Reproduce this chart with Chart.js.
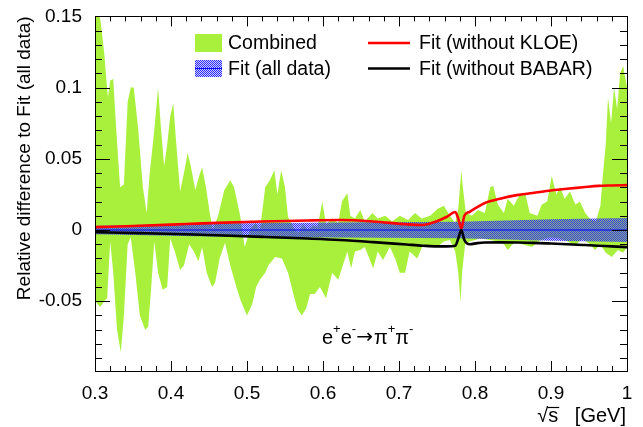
<!DOCTYPE html>
<html>
<head>
<meta charset="utf-8">
<script src="https://cdn.jsdelivr.net/npm/chart.js@4.4.0/dist/chart.umd.min.js"></script>
<style>
  body { margin: 0; background: #fff; }
  #wrap { width: 643px; height: 427px; }
</style>
</head>
<body>
<div id="wrap"><canvas id="chart" width="643" height="427"></canvas></div>
<script>
// axis ticks
const xMajor = [0.3, 0.4, 0.5, 0.6, 0.7, 0.8, 0.9, 1.0];
const xLabels = ['0.3', '0.4', '0.5', '0.6', '0.7', '0.8', '0.9', '1'];
const yMajor = [-0.05, 0, 0.05, 0.1, 0.15];
const yLabels = ['-0.05', '0', '0.05', '0.1', '0.15'];
const xMinorStep = 0.02;
const yMinorStep = 0.01;

// "Combined" band, upper edge
const combUpX = [0.300,0.307,0.312,0.317,0.320,0.324,0.328,0.333,0.338,0.343,
  0.347,0.351,0.357,0.363,0.368,0.372,0.378,0.383,0.387,0.391,
  0.395,0.399,0.403,0.407,0.412,0.417,0.422,0.426,0.432,0.437,
  0.441,0.446,0.451,0.455,0.462,0.470,0.478,0.483,0.491,0.497,
  0.504,0.511,0.517,0.524,0.530,0.536,0.540,0.545,0.550,0.554,
  0.561,0.567,0.574,0.580,0.587,0.593,0.599,0.604,0.612,0.620,
  0.625,0.632,0.636,0.642,0.649,0.655,0.665,0.672,0.682,0.691,
  0.701,0.712,0.721,0.730,0.741,0.751,0.759,0.767,0.774,0.778,
  0.782,0.784,0.788,0.796,0.804,0.813,0.820,0.824,0.830,0.838,
  0.843,0.851,0.859,0.866,0.872,0.882,0.888,0.895,0.901,0.907,
  0.912,0.918,0.925,0.932,0.938,0.945,0.951,0.959,0.965,0.968,
  0.972,0.975,0.979,0.983,0.987,0.991,0.995,1.000];
const combUp = [0.16,0.148,0.125,0.093,0.105,0.106,0.07,0.03,0.032,0.09,
  0.1,0.1,0.07,0.03,0.012,0.04,0.07,0.1,0.07,0.045,
  0.06,0.08,0.089,0.06,0.027,0.04,0.054,0.045,0.028,0.038,
  0.044,0.03,0.012,0.0,0.01,0.028,0.035,0.03,0.01,-0.012,
  0.0,0.005,0.0,0.03,0.035,0.042,0.025,0.042,0.03,0.009,
  0.002,-0.002,0.004,0.0,0.003,0.002,0.02,0.004,0.008,0.005,
  0.02,0.026,0.01,0.008,0.014,0.006,0.012,0.008,0.01,0.006,
  0.01,0.007,0.012,0.008,0.01,0.015,0.017,0.01,0.005,0.015,
  0.042,0.03,0.012,0.01,0.014,0.012,0.03,0.031,0.018,0.012,
  0.022,0.017,0.025,0.026,0.012,0.01,0.018,0.02,0.038,0.025,
  0.03,0.022,0.027,0.018,0.02,0.012,0.008,0.006,0.017,0.037,
  0.06,0.093,0.075,0.1,0.085,0.11,0.115,0.1];

// "Combined" band, lower edge
const combLoX = [0.300,0.307,0.312,0.316,0.320,0.324,0.329,0.334,0.338,0.343,
  0.347,0.353,0.359,0.366,0.370,0.374,0.378,0.383,0.389,0.395,
  0.399,0.405,0.412,0.417,0.424,0.430,0.436,0.441,0.447,0.454,
  0.458,0.464,0.471,0.478,0.486,0.492,0.500,0.507,0.512,0.517,
  0.524,0.528,0.537,0.546,0.554,0.561,0.566,0.572,0.578,0.583,
  0.589,0.596,0.604,0.612,0.620,0.626,0.632,0.637,0.642,0.649,
  0.655,0.661,0.666,0.672,0.679,0.688,0.695,0.701,0.708,0.714,
  0.724,0.732,0.741,0.750,0.759,0.767,0.774,0.778,0.781,0.783,
  0.787,0.793,0.807,0.820,0.830,0.838,0.843,0.853,0.862,0.875,
  0.886,0.899,0.912,0.922,0.932,0.941,0.951,0.958,0.965,0.972,
  0.980,0.988,0.995,1.000];
const combLo = [-0.05,-0.054,-0.05,-0.048,-0.008,-0.03,-0.07,-0.086,-0.06,-0.01,
  -0.005,-0.03,-0.06,-0.07,-0.068,-0.04,-0.008,-0.03,-0.042,-0.04,
  -0.006,-0.015,-0.028,-0.025,-0.01,-0.015,-0.022,-0.012,-0.03,-0.04,
  -0.037,-0.02,-0.009,-0.025,-0.04,-0.05,-0.06,-0.052,-0.04,-0.035,
  -0.03,-0.025,-0.019,-0.02,-0.03,-0.045,-0.055,-0.06,-0.055,-0.045,
  -0.045,-0.04,-0.048,-0.03,-0.035,-0.025,-0.015,-0.027,-0.015,-0.014,
  -0.012,-0.02,-0.027,-0.015,-0.021,-0.012,-0.02,-0.03,-0.03,-0.015,
  -0.02,-0.01,-0.012,-0.012,-0.008,-0.007,-0.015,-0.03,-0.051,-0.03,
  -0.01,-0.008,-0.006,-0.007,-0.008,-0.01,-0.014,-0.008,-0.01,-0.012,
  -0.007,-0.005,-0.006,-0.008,-0.011,-0.006,-0.01,-0.014,-0.01,-0.016,
  -0.019,-0.014,-0.016,-0.012];

// Fit (all data) error band half width
const fitX = [0.3, 0.45, 0.62, 0.78, 0.9, 1.0];
const fitHalf = [0.003, 0.0045, 0.0052, 0.0058, 0.0075, 0.0085];

// Fit (without KLOE)
const redX = [0.3,0.36,0.42,0.46,0.52,0.58,0.622,0.666,0.71,0.731,0.75,0.763,0.774,0.778,0.782,0.786,0.793,0.803,0.813,0.833,0.855,0.876,0.9,0.921,0.942,0.962,0.98,1.0];
const redY = [0.002,0.003,0.0042,0.005,0.006,0.0067,0.007,0.006,0.004,0.0035,0.0062,0.0093,0.0126,0.008,0.001,0.01,0.0128,0.016,0.019,0.022,0.0245,0.026,0.0278,0.029,0.03,0.031,0.0313,0.0315];

// Fit (without BABAR)
const blackX = [0.3,0.36,0.42,0.46,0.52,0.58,0.622,0.666,0.71,0.731,0.75,0.763,0.774,0.778,0.782,0.786,0.793,0.803,0.813,0.833,0.855,0.876,0.9,0.921,0.942,0.962,0.98,1.0];
const blackY = [-0.0015,-0.0022,-0.003,-0.0037,-0.0048,-0.006,-0.007,-0.0085,-0.0102,-0.011,-0.0115,-0.0115,-0.011,-0.006,0.0,-0.007,-0.01,-0.0092,-0.0088,-0.0087,-0.0088,-0.009,-0.0095,-0.01,-0.0105,-0.011,-0.0115,-0.012];

const FONT = '"Liberation Sans", Arial, Helvetica, sans-serif';
const GREEN = '#a8f03c';

const canvas = document.getElementById('chart');
const ctx = canvas.getContext('2d');

function pts(xs, ys) {
  return xs.map((x, i) => ({ x: x, y: ys[i] }));
}

// checkered blue fill like ROOT hatch
function makeHatch() {
  const c = document.createElement('canvas');
  c.width = 2; c.height = 2;
  const g = c.getContext('2d');
  g.fillStyle = 'rgba(90,90,255,0.3)';
  g.fillRect(0, 0, 2, 2);
  g.fillStyle = '#2c2cff';
  g.fillRect(0, 0, 1, 1);
  g.fillRect(1, 1, 1, 1);
  return ctx.createPattern(c, 'repeat');
}
const hatch = makeHatch();

const thin = { pointRadius: 0, borderWidth: 0, tension: 0 };

const datasets = [
  { label: 'Fit (without BABAR)', data: pts(blackX, blackY), borderColor: '#000', borderWidth: 2.6,
    pointRadius: 0, fill: false, cubicInterpolationMode: 'monotone', order: 0 },
  { label: 'Fit (without KLOE)', data: pts(redX, redY), borderColor: '#ff0000', borderWidth: 2.6,
    pointRadius: 0, fill: false, cubicInterpolationMode: 'monotone', order: 1 },
  { label: 'Fit (all data)', data: pts(fitX, fitX.map(() => 0)), borderColor: '#0000ff', borderWidth: 1,
    pointRadius: 0, fill: false, order: 2 },
  Object.assign({ label: 'fit up', data: pts(fitX, fitHalf), fill: 4, backgroundColor: hatch, order: 3 }, thin),
  Object.assign({ label: 'fit lo', data: pts(fitX, fitHalf.map(v => -v)), fill: false, order: 4 }, thin),
  Object.assign({ label: 'Combined', data: pts(combUpX, combUp), fill: 6, backgroundColor: GREEN, order: 5 }, thin),
  Object.assign({ label: 'comb lo', data: pts(combLoX, combLo), fill: false, order: 6 }, thin)
];

// inner ticks on all four sides + frame
const rootAxes = {
  id: 'rootAxes',
  afterDatasetsDraw(chart) {
    const { ctx, chartArea: a } = chart;
    const xs = chart.scales.x, ys = chart.scales.y;
    ctx.save();
    ctx.strokeStyle = '#000';
    ctx.lineWidth = 1;
    ctx.beginPath();
    const nx0 = Math.round(xs.min / xMinorStep), nx1 = Math.round(xs.max / xMinorStep);
    for (let i = nx0; i <= nx1; i++) {
      const v = i * xMinorStep;
      const major = xMajor.some(m => Math.abs(m - v) < 1e-6);
      const len = major ? 10 : 5;
      const px = Math.round(xs.getPixelForValue(v)) + 0.5;
      ctx.moveTo(px, a.bottom); ctx.lineTo(px, a.bottom - len);
      ctx.moveTo(px, a.top); ctx.lineTo(px, a.top + len);
    }
    const ny0 = Math.ceil(ys.min / yMinorStep - 1e-6), ny1 = Math.floor(ys.max / yMinorStep + 1e-6);
    for (let i = ny0; i <= ny1; i++) {
      const v = i * yMinorStep;
      const major = yMajor.some(m => Math.abs(m - v) < 1e-6);
      const len = major ? 15 : 7;
      const py = Math.round(ys.getPixelForValue(v)) + 0.5;
      ctx.moveTo(a.left, py); ctx.lineTo(a.left + len, py);
      ctx.moveTo(a.right, py); ctx.lineTo(a.right - len, py);
    }
    ctx.stroke();
    ctx.strokeRect(Math.round(a.left) + 0.5, Math.round(a.top) + 0.5,
      Math.round(a.right - a.left), Math.round(a.bottom - a.top));
    ctx.restore();
  },
  afterDraw(chart) {
    const ctx = chart.ctx;
    ctx.save();
    ctx.fillStyle = '#000';
    ctx.textBaseline = 'middle';
    ctx.font = '19px ' + FONT;

    // legend
    ctx.fillStyle = GREEN;
    ctx.fillRect(195, 34, 27, 18);
    ctx.fillStyle = hatch;
    ctx.fillRect(195, 60, 27, 17);
    ctx.strokeStyle = '#0000ff';
    ctx.lineWidth = 1;
    ctx.beginPath(); ctx.moveTo(195, 68.5); ctx.lineTo(222, 68.5); ctx.stroke();
    ctx.lineWidth = 2.6;
    ctx.strokeStyle = '#ff0000';
    ctx.beginPath(); ctx.moveTo(368, 43); ctx.lineTo(410, 43); ctx.stroke();
    ctx.strokeStyle = '#000';
    ctx.beginPath(); ctx.moveTo(368, 68.5); ctx.lineTo(410, 68.5); ctx.stroke();
    ctx.fillStyle = '#000';
    ctx.font = '19.5px ' + FONT;
    ctx.fillText('Combined', 228, 44);
    ctx.fillText('Fit (all data)', 228, 70);
    ctx.fillText('Fit (without KLOE)', 419, 44);
    ctx.fillText('Fit (without BABAR)', 419, 70);

    // reaction label
    ctx.textBaseline = 'alphabetic';
    const ARROW_FONT = '"DejaVu Sans", ' + FONT;
    const parts = [['e', 20, 0, FONT], ['+', 13, -11, FONT], ['e', 20, 0, FONT], ['-', 13, -11, FONT],
      ['\u2192', 20, -1, ARROW_FONT], ['\u03c0', 20, 0, FONT], ['+', 13, -11, FONT],
      ['\u03c0', 20, 0, FONT], ['-', 13, -11, FONT]];
    let x = 322;
    parts.forEach(p => {
      ctx.font = p[1] + 'px ' + p[3];
      ctx.fillText(p[0], x, 344 + p[2]);
      x += ctx.measureText(p[0]).width + (p[0] === '\u2192' ? 1 : 0);
    });

    // x axis title with radical
    ctx.font = '20px ' + FONT;
    const wr = ctx.measureText('\u221a').width;
    const ws = ctx.measureText('s').width;
    const rest = '   [GeV]';
    const wt = ctx.measureText(rest).width;
    let x0 = 626 - wr - ws - wt;
    ctx.fillText('\u221a', x0, 422);
    ctx.fillText('s', x0 + wr, 422);
    ctx.fillText(rest, x0 + wr + ws, 422);
    ctx.lineWidth = 1.2;
    ctx.beginPath();
    ctx.moveTo(x0 + wr - 1, 407.5);
    ctx.lineTo(x0 + wr + ws + 1, 407.5);
    ctx.stroke();
    ctx.restore();
  }
};

new Chart(ctx, {
  type: 'line',
  data: { datasets: datasets },
  options: {
    responsive: false,
    animation: false,
    layout: { padding: { left: 13, right: 16, top: 16, bottom: 0 } },
    plugins: { legend: { display: false }, tooltip: { enabled: false } },
    scales: {
      x: {
        type: 'linear', min: 0.3, max: 1.0,
        afterBuildTicks: s => { s.ticks = xMajor.map(v => ({ value: v })); },
        afterFit: s => { s.height = 56; },
        grid: { display: false },
        border: { display: false },
        ticks: { color: '#000', font: { family: FONT, size: 19 }, padding: 3, maxRotation: 0, autoSkip: false,
          callback: (v, i) => xLabels[i] }
      },
      y: {
        type: 'linear', min: -0.099, max: 0.15,
        afterBuildTicks: s => { s.ticks = yMajor.map(v => ({ value: v })); },
        afterFit: s => { s.width = 82; },
        grid: { display: false },
        border: { display: false },
        ticks: { color: '#000', font: { family: FONT, size: 19 }, padding: 5, autoSkip: false,
          callback: (v, i) => yLabels[i] },
        title: { display: true, text: 'Relative difference to Fit (all data)', align: 'end', color: '#000',
          font: { family: FONT, size: 19 }, padding: 0 }
      }
    }
  },
  plugins: [rootAxes]
});
</script>
</body>
</html>
